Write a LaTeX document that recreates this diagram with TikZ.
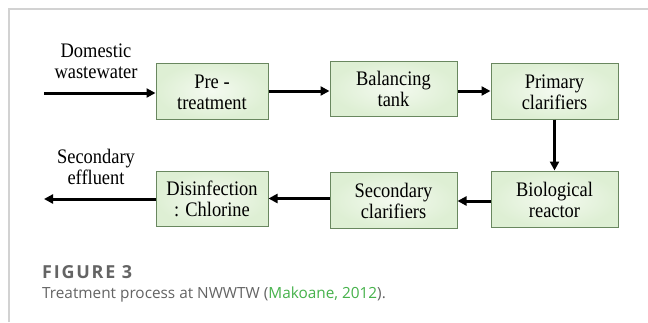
\documentclass[tikz,border=0pt]{standalone}
\usepackage{fontspec}
\usepackage{graphicx}
\setmainfont{Liberation Serif}
\newfontfamily\capfont{Open Sans}
\newfontfamily\figfont[LetterSpace=10]{Open Sans}
\usetikzlibrary{arrows.meta}
\definecolor{boxfill}{RGB}{222,239,212}
\definecolor{boxinner}{RGB}{244,250,240}
\definecolor{boxdraw}{RGB}{105,135,95}
\definecolor{framegrey}{RGB}{210,210,210}
\definecolor{capgrey}{RGB}{100,100,100}
\definecolor{capgreen}{RGB}{70,178,75}
\newcommand{\twoline}[2]{\raisebox{-3.5bp}[\height][\depth]{\scalebox{1}[1.12]{\fontsize{18.5}{18.8}\selectfont\begin{tabular}{@{}c@{}}#1\\#2\end{tabular}}}}
\tikzset{
  procbox/.style={draw=boxdraw, line width=1bp, inner color=boxinner, outer color=boxfill,
    align=center, inner sep=0pt},
  flow/.style={line width=3bp, -{Triangle[length=9bp,width=9bp]}},
  freetext/.style={align=center, inner sep=0pt}
}
\begin{document}
\begin{tikzpicture}[x=1bp,y=-1bp]
\useasboundingbox (0,0) rectangle (648,322);
\fill[white] (0,0) rectangle (648,322);
\draw[framegrey, line width=1.5bp] (9,322) -- (9,9) -- (648,9);

\node[procbox, minimum width=112bp, minimum height=56bp] (pre) at (212,91) {\twoline{Pre -}{treatment}};
\node[procbox, minimum width=127bp, minimum height=55bp] (bal) at (393.5,88.5) {\twoline{Balancing}{tank}};
\node[procbox, minimum width=127bp, minimum height=56bp] (prim) at (554.5,91) {\twoline{Primary}{clarifiers}};
\node[procbox, minimum width=127bp, minimum height=56bp] (bio) at (554.5,199) {\twoline{Biological}{reactor}};
\node[procbox, minimum width=127bp, minimum height=56bp] (sec) at (393.5,200) {\twoline{Secondary}{clarifiers}};
\node[procbox, minimum width=112bp, minimum height=55bp] (dis) at (212,198.5) {\twoline{Disinfection}{: Chlorine}};

\node[freetext] (dom) at (96,60) {\twoline{Domestic}{wastewater}};
\node[freetext] (eff) at (96,166) {\twoline{Secondary}{effluent}};

\coordinate (inlet) at (44,93);
\coordinate (outlet) at (44,199);

\draw[flow] (inlet) -- (inlet -| pre.west);
\draw[flow] (pre.east) -- (pre.east -| bal.west);
\draw[flow] (pre.east -| bal.east) -- (pre.east -| prim.west);
\draw[flow] (prim.south) -- (bio.north);
\draw[flow] (bio.west |- 0,201) -- (sec.east |- 0,201);
\draw[flow] (sec.west |- dis.east) -- (dis.east);
\draw[flow] (dis.west |- outlet) -- (outlet);

\node[anchor=west, inner sep=0pt, font=\figfont\bfseries\fontsize{18}{21}\selectfont, text=capgrey] (fig) at (42,272) {FIGURE 3};
\node[anchor=west, inner sep=0pt, font=\capfont\fontsize{15.4}{18}\selectfont, text=capgrey] (cap) at (42,295) {Treatment process at NWWTW (\textcolor{capgreen}{Makoane, 2012}).};
\end{tikzpicture}
\end{document}
